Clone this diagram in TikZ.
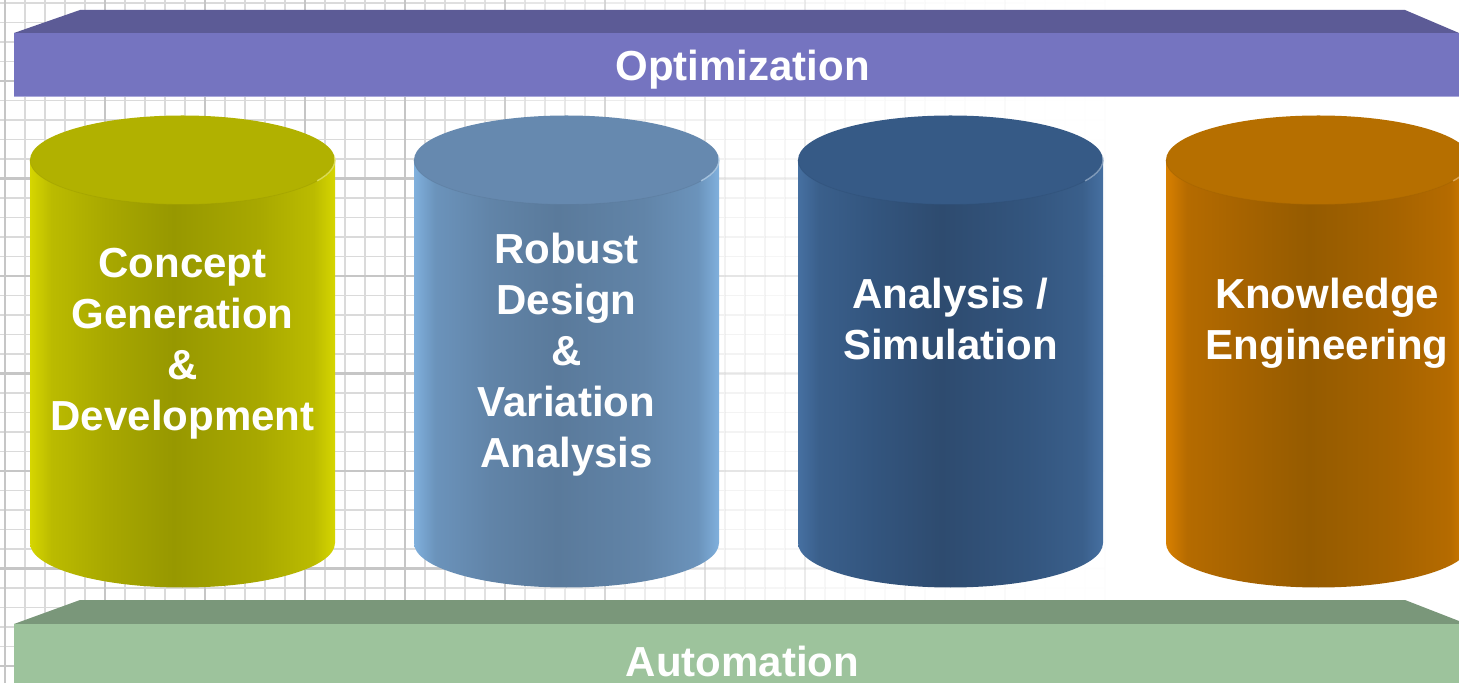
\documentclass[tikz,border=0pt]{standalone}
\usepackage{fontspec}
\setmainfont{Liberation Sans}
\usetikzlibrary{calc}
\definecolor{optTop}{HTML}{5C5B96}
\definecolor{optFront}{HTML}{7574C0}
\definecolor{optEdge}{HTML}{A9A8DA}
\definecolor{autoTop}{HTML}{7A977A}
\definecolor{autoFront}{HTML}{9DC39C}
\definecolor{gridMinor}{HTML}{DADADA}
\definecolor{gridMajor}{HTML}{C6C6C6}
% yellow
\definecolor{yA}{HTML}{D6D600}\definecolor{yB}{HTML}{BBBB00}\definecolor{yC}{HTML}{A8A800}\definecolor{yD}{HTML}{979800}\definecolor{yTop}{HTML}{B1B100}
% light blue
\definecolor{lA}{HTML}{80B0DD}\definecolor{lB}{HTML}{6B93BB}\definecolor{lC}{HTML}{6184A8}\definecolor{lD}{HTML}{5A7A9B}\definecolor{lTop}{HTML}{6689AF}
% dark blue
\definecolor{dA}{HTML}{4670A1}\definecolor{dB}{HTML}{3A5F8B}\definecolor{dC}{HTML}{33557E}\definecolor{dD}{HTML}{2E4B6F}\definecolor{dTop}{HTML}{365A86}
% orange
\definecolor{oA}{HTML}{D88000}\definecolor{oB}{HTML}{B56B00}\definecolor{oC}{HTML}{A66300}\definecolor{oD}{HTML}{955B00}\definecolor{oTop}{HTML}{B66F00}
\newcommand\mkcylshade[5]{%
  \pgfdeclarehorizontalshading{#1}{100bp}{color(0bp)=(#2); color(25bp)=(#2); color(28.5bp)=(#3); color(37.5bp)=(#4); color(48.5bp)=(#5); color(62.5bp)=(#4); color(71.5bp)=(#3); color(75bp)=(#2); color(100bp)=(#2)}}
\mkcylshade{yelside}{yA}{yB}{yC}{yD}
\mkcylshade{lbside}{lA}{lB}{lC}{lD}
\mkcylshade{dbside}{dA}{dB}{dC}{dD}
\mkcylshade{orside}{oA}{oB}{oC}{oD}
\newcommand\cylinder[4]{% cx, side shading, top colour, rim colour
  \shade[shading=#2] (#1-152.5,523) -- (#1-152.5,140)
     arc[start angle=180, end angle=360, x radius=152.5, y radius=44.5]
     -- (#1+152.5,523) -- cycle;
  \fill[#3] (#1,523) ellipse[x radius=152.5, y radius=44.5];
  \draw[#3!88!black, line width=0.8pt, opacity=.45] (#1,523) ++(180:152.5 and 44.5)
     arc[start angle=180, end angle=360, x radius=152.5, y radius=44.5];
  \draw[#4!55!white, line width=1.4pt, opacity=.75] (#1,523) ++(-28:152.5 and 44.5)
     arc[start angle=-28, end angle=4, x radius=152.5, y radius=44.5];
}
\tikzset{
  lbl/.style={text=white, font=\fontsize{42}{51}\selectfont\bfseries, align=center, inner sep=0pt},
}
\begin{document}
\begin{tikzpicture}[x=1pt,y=1pt]
\useasboundingbox (0,0) rectangle (1459,683);
\fill[white] (0,0) rectangle (1459,683);
% grid background, fading out to the right
\foreach \k in {0,...,73}{
  \pgfmathsetmacro\op{(max(0,min(1,(1150-(20*\k))/750)))^2}
  \draw[gridMinor, line width=1.3pt, opacity=\op]
    (5+20*\k,0) -- ++(0,683)
    foreach \j in {0,...,34} { (20*\k-15,680-19.5*\j) -- ++(20,0) };
}
\foreach \k in {0,...,14}{
  \pgfmathsetmacro\op{(max(0,min(1,(1150-(100*\k))/750)))^2}
  \draw[gridMajor, line width=2.2pt, opacity=\op] (5+100*\k,0) -- ++(0,683);
}
\foreach \k in {0,...,73}{
  \pgfmathsetmacro\op{(max(0,min(1,(1150-(20*\k))/750)))^2}
  \draw[gridMajor, line width=2.2pt, opacity=\op]
    foreach \j in {4,9,...,34} { (20*\k-15,680-19.5*\j) -- ++(20,0) };
}
% Optimization bar
\fill[optTop] (14,650) -- (80,673) -- (1405,673) -- (1459,650) -- cycle;
\fill[optFront] (14,586) rectangle (1459,650);
\draw[optEdge, line width=1pt] (14,586.5) -- (1459,586.5);
\node[lbl, anchor=base] (opt) at (742.5,602) {Optimization};
% Automation bar
\fill[autoTop] (14,59) -- (80,83) -- (1405,83) -- (1459,62) -- (1459,59) -- cycle;
\fill[autoFront] (14,0) rectangle (1459,59);
\node[lbl, anchor=base] (auto) at (742.5,7) {Automation};
% cylinders
\cylinder{182.5}{yelside}{yTop}{yA}
\cylinder{566.5}{lbside}{lTop}{lA}
\cylinder{950.5}{dbside}{dTop}{dA}
\cylinder{1318.5}{orside}{oTop}{oA}
\node[lbl, anchor=north] (c1) at (182.5,435.5) {Concept\\Generation\\\&\\Development};
\node[lbl, anchor=north] (c2) at (566.5,450) {Robust\\Design\\\&\\Variation\\Analysis};
\node[lbl, anchor=north] (c3) at (950.5,405) {Analysis /\\Simulation};
\node[lbl, anchor=north] (c4) at (1327,405) {Knowledge\\Engineering};
\end{tikzpicture}
\end{document}
